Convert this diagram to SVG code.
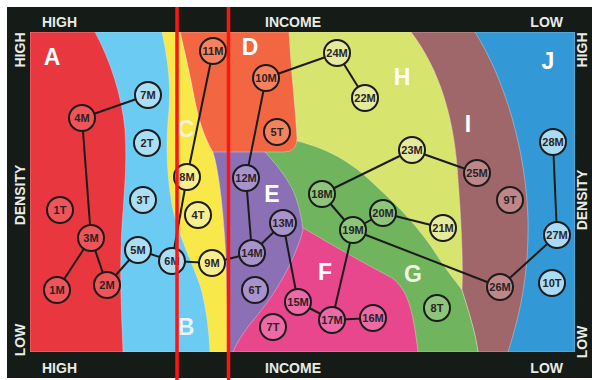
<svg xmlns="http://www.w3.org/2000/svg" width="592" height="380" viewBox="0 0 592 380">
<style>
.lbl{font-family:"Liberation Sans Narrow","Liberation Sans",Arial,sans-serif;font-weight:bold;font-size:14px;fill:#e8ebe6}
.reg{stroke:#f4f1e6;stroke-opacity:.35;stroke-width:1}
.let{font-family:"Liberation Sans",Arial,sans-serif;font-weight:bold;font-size:23px;fill:#fff;text-anchor:middle}
.node circle{stroke:#1b1b1b;stroke-width:2}
.node text{font-family:"Liberation Sans Narrow","Liberation Sans",Arial,sans-serif;font-weight:bold;font-size:11px;fill:#2a2326;text-anchor:middle}
.edge line{stroke:#1b1b1b;stroke-width:2}
.nA{fill:#ee5458}.nB{fill:#a9def5}.nC{fill:#f7ef8e}.nD{fill:#f5825f}.nE{fill:#a892cc}
.nF{fill:#ee6aa6}.nG{fill:#8dc57b}.nH{fill:#e4eb9c}.nI{fill:#bd8689}.nJ{fill:#a9dcf4}
.red{stroke:#ff1414;stroke-width:3.5}
</style>
<defs>
<clipPath id="plot"><rect x="30" y="32" width="545" height="320"/></clipPath>
</defs>
<rect x="7" y="7" width="585" height="371" fill="#151b17"/>
<g id="axis-labels">
<text class="lbl" x="42" y="27">HIGH</text>
<text class="lbl" x="293" y="27" text-anchor="middle">INCOME</text>
<text class="lbl" x="563" y="27" text-anchor="end">LOW</text>
<text class="lbl" x="42" y="373">HIGH</text>
<text class="lbl" x="293" y="373" text-anchor="middle">INCOME</text>
<text class="lbl" x="563" y="373" text-anchor="end">LOW</text>
<text class="lbl" transform="translate(25,50) rotate(-90)" text-anchor="middle">HIGH</text>
<text class="lbl" transform="translate(25,195) rotate(-90)" text-anchor="middle">DENSITY</text>
<text class="lbl" transform="translate(25,340) rotate(-90)" text-anchor="middle">LOW</text>
<text class="lbl" transform="translate(587,50) rotate(-90)" text-anchor="middle">HIGH</text>
<text class="lbl" transform="translate(587,200) rotate(-90)" text-anchor="middle">DENSITY</text>
<text class="lbl" transform="translate(587,342) rotate(-90)" text-anchor="middle">LOW</text>
</g>
<g id="regions" clip-path="url(#plot)">
<rect id="region-J" class="reg" x="30" y="32" width="545" height="320" fill="#3399d6"/>
<path id="region-I" class="reg" fill="#a0676b" d="M30,32 L475,32 C505,80 526,150 528,220 C529,280 518,320 508,352 L30,352 Z"/>
<path id="region-H" class="reg" fill="#d7e46e" d="M30,32 L411,32 C440,70 455,120 458,180 C462,230 463,270 462,290 C468,310 475,330 478,352 L30,352 Z"/>
<path id="region-G" class="reg" fill="#70b45d" d="M240,141 L297,141 C325,148 350,160 375,185 C400,208 420,228 440,260 C450,275 458,284 462,290 C468,310 475,330 478,352 L230,352 Z"/>
<path id="region-F" class="reg" fill="#e8478e" d="M300,226 C330,244 362,262 392,278 C408,290 413,310 418,352 L220,352 L220,226 Z"/>
<path id="region-E" class="reg" fill="#8b70b6" d="M205,145 L262,145 L265,152 C280,168 292,185 296,198 C300,210 302,220 303,230 C295,260 275,295 255,318 C245,330 237,342 233,352 L205,352 Z"/>
<path id="region-D" class="reg" fill="#f26741" d="M180,32 L289,32 C291,70 296,115 297,138 Q297,152 284,152 L213,152 C205,140 198,120 193,92 C189,70 184,50 180,32 Z"/>
<path id="region-C" class="reg" fill="#f8e84a" d="M30,32 L180,32 C184,50 189,70 193,92 C198,120 205,140 213,152 C220,175 224,220 226,260 L228,352 L30,352 Z"/>
<path id="region-B" class="reg" fill="#6ccbf2" d="M30,32 L162,32 C168,60 171,85 169,110 C166,140 166,170 172,205 C178,235 192,262 200,285 C206,305 209,330 210,352 L30,352 Z"/>
<path id="region-A" class="reg" fill="#e8373f" d="M30,32 L95,32 C110,60 122,95 125,130 C128,170 122,210 121,250 C120,290 122,320 123,352 L30,352 Z"/>
</g>
<g id="region-letters">
<text class="let" x="52" y="65">A</text>
<text class="let" x="186" y="335" fill-opacity=".85">B</text>
<text class="let" x="186" y="137" style="fill:#fbf6d0">C</text>
<text class="let" x="250" y="55">D</text>
<text class="let" x="272" y="202">E</text>
<text class="let" x="325" y="280">F</text>
<text class="let" x="413" y="282" style="fill:#eef6e6">G</text>
<text class="let" x="402" y="85">H</text>
<text class="let" x="468" y="132">I</text>
<text class="let" x="548" y="69">J</text>
</g>
<g id="connectors" class="edge">
<line x1="82" y1="118" x2="148" y2="95"/>
<line x1="82" y1="118" x2="91" y2="238"/>
<line x1="91" y1="238" x2="57" y2="290"/>
<line x1="91" y1="238" x2="107" y2="285"/>
<line x1="107" y1="285" x2="138" y2="250"/>
<line x1="138" y1="250" x2="172" y2="261"/>
<line x1="172" y1="261" x2="212" y2="263"/>
<line x1="172" y1="261" x2="187" y2="177"/>
<line x1="187" y1="177" x2="213" y2="51"/>
<line x1="212" y1="263" x2="252" y2="253"/>
<line x1="252" y1="253" x2="246" y2="178"/>
<line x1="246" y1="178" x2="266" y2="78"/>
<line x1="266" y1="78" x2="337" y2="53"/>
<line x1="337" y1="53" x2="365" y2="98"/>
<line x1="252" y1="253" x2="283" y2="223"/>
<line x1="283" y1="223" x2="298" y2="302"/>
<line x1="298" y1="302" x2="332" y2="320"/>
<line x1="332" y1="320" x2="373" y2="318"/>
<line x1="332" y1="320" x2="353" y2="230"/>
<line x1="353" y1="230" x2="322" y2="194"/>
<line x1="322" y1="194" x2="412" y2="150"/>
<line x1="412" y1="150" x2="477" y2="173"/>
<line x1="353" y1="230" x2="383" y2="213"/>
<line x1="383" y1="213" x2="443" y2="228"/>
<line x1="353" y1="230" x2="500" y2="287"/>
<line x1="500" y1="287" x2="557" y2="235"/>
<line x1="557" y1="235" x2="553" y2="142"/>
</g>
<g id="nodes">
<g id="n4M" class="node"><circle class="nA" cx="82" cy="118" r="13"/><text x="82" y="122">4M</text></g>
<g id="n1T" class="node"><circle class="nA" cx="60" cy="210" r="13"/><text x="60" y="214">1T</text></g>
<g id="n3M" class="node"><circle class="nA" cx="91" cy="238" r="13"/><text x="91" y="242">3M</text></g>
<g id="n1M" class="node"><circle class="nA" cx="57" cy="290" r="13"/><text x="57" y="294">1M</text></g>
<g id="n2M" class="node"><circle class="nA" cx="107" cy="285" r="13"/><text x="107" y="289">2M</text></g>
<g id="n7M" class="node"><circle class="nB" cx="148" cy="95" r="13"/><text x="148" y="99">7M</text></g>
<g id="n2T" class="node"><circle class="nB" cx="147" cy="143" r="13"/><text x="147" y="147">2T</text></g>
<g id="n3T" class="node"><circle class="nB" cx="143" cy="200" r="13"/><text x="143" y="204">3T</text></g>
<g id="n5M" class="node"><circle class="nB" cx="138" cy="250" r="13"/><text x="138" y="254">5M</text></g>
<g id="n6M" class="node"><circle class="nB" cx="172" cy="261" r="13"/><text x="172" y="265">6M</text></g>
<g id="n8M" class="node"><circle class="nC" cx="187" cy="177" r="13"/><text x="187" y="181">8M</text></g>
<g id="n4T" class="node"><circle class="nC" cx="198" cy="215" r="13"/><text x="198" y="219">4T</text></g>
<g id="n9M" class="node"><circle class="nC" cx="212" cy="263" r="13"/><text x="212" y="267">9M</text></g>
<g id="n11M" class="node"><circle class="nD" cx="213" cy="51" r="13"/><text x="213" y="55">11M</text></g>
<g id="n10M" class="node"><circle class="nD" cx="266" cy="78" r="13"/><text x="266" y="82">10M</text></g>
<g id="n5T" class="node"><circle class="nD" cx="277" cy="132" r="13"/><text x="277" y="136">5T</text></g>
<g id="n12M" class="node"><circle class="nE" cx="246" cy="178" r="13"/><text x="246" y="182">12M</text></g>
<g id="n13M" class="node"><circle class="nE" cx="283" cy="223" r="13"/><text x="283" y="227">13M</text></g>
<g id="n14M" class="node"><circle class="nE" cx="252" cy="253" r="13"/><text x="252" y="257">14M</text></g>
<g id="n6T" class="node"><circle class="nE" cx="255" cy="290" r="13"/><text x="255" y="294">6T</text></g>
<g id="n15M" class="node"><circle class="nF" cx="298" cy="302" r="13"/><text x="298" y="306">15M</text></g>
<g id="n7T" class="node"><circle class="nF" cx="273" cy="327" r="13"/><text x="273" y="331">7T</text></g>
<g id="n17M" class="node"><circle class="nF" cx="332" cy="320" r="13"/><text x="332" y="324">17M</text></g>
<g id="n16M" class="node"><circle class="nF" cx="373" cy="318" r="13"/><text x="373" y="322">16M</text></g>
<g id="n18M" class="node"><circle class="nG" cx="322" cy="194" r="13"/><text x="322" y="198">18M</text></g>
<g id="n19M" class="node"><circle class="nG" cx="353" cy="230" r="13"/><text x="353" y="234">19M</text></g>
<g id="n20M" class="node"><circle class="nG" cx="383" cy="213" r="13"/><text x="383" y="217">20M</text></g>
<g id="n8T" class="node"><circle class="nG" cx="437" cy="308" r="13"/><text x="437" y="312">8T</text></g>
<g id="n24M" class="node"><circle class="nH" cx="337" cy="53" r="13"/><text x="337" y="57">24M</text></g>
<g id="n22M" class="node"><circle class="nH" cx="365" cy="98" r="13"/><text x="365" y="102">22M</text></g>
<g id="n23M" class="node"><circle class="nH" cx="412" cy="150" r="13"/><text x="412" y="154">23M</text></g>
<g id="n21M" class="node"><circle class="nH" cx="443" cy="228" r="13"/><text x="443" y="232">21M</text></g>
<g id="n25M" class="node"><circle class="nI" cx="477" cy="173" r="13"/><text x="477" y="177">25M</text></g>
<g id="n9T" class="node"><circle class="nI" cx="510" cy="200" r="13"/><text x="510" y="204">9T</text></g>
<g id="n26M" class="node"><circle class="nI" cx="500" cy="287" r="13"/><text x="500" y="291">26M</text></g>
<g id="n28M" class="node"><circle class="nJ" cx="553" cy="142" r="13"/><text x="553" y="146">28M</text></g>
<g id="n27M" class="node"><circle class="nJ" cx="557" cy="235" r="13"/><text x="557" y="239">27M</text></g>
<g id="n10T" class="node"><circle class="nJ" cx="552" cy="283" r="13"/><text x="552" y="287">10T</text></g>
</g>
<g id="annotation">
<line class="red" x1="177" y1="7" x2="177" y2="380"/>
<line class="red" x1="228.5" y1="7" x2="228.5" y2="380"/>
</g>
</svg>
